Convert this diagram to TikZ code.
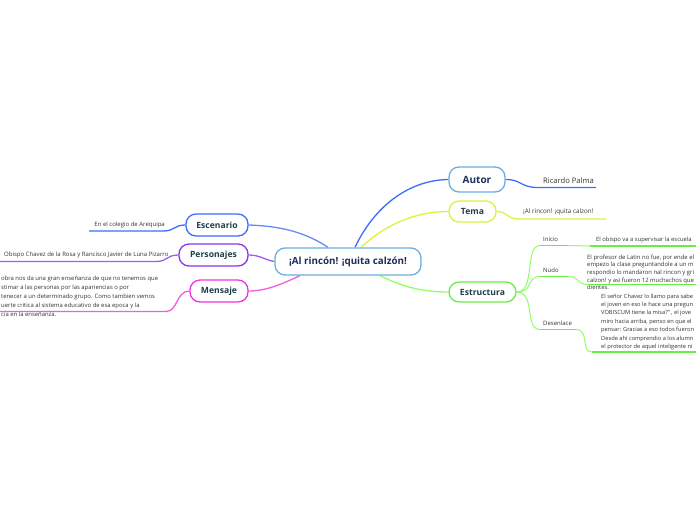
\documentclass[tikz,border=0pt]{standalone}
\usepackage{fontspec}
\setmainfont{Open Sans}
\usetikzlibrary{calc}
\pgfdeclarelayer{bg}
\pgfsetlayers{bg,main}
\definecolor{navy}{HTML}{1B2F5A}
\definecolor{tealtx}{HTML}{1E3F4A}
\definecolor{cblue}{HTML}{3D6BFF}
\definecolor{lblue}{HTML}{6AAEE0}
\definecolor{ylw}{HTML}{D8F53A}
\definecolor{grn}{HTML}{66EE44}
\definecolor{lgrn}{HTML}{8FFF66}
\definecolor{purp}{HTML}{8A33F0}
\definecolor{mag}{HTML}{EE33DD}
\definecolor{leaftx}{HTML}{333333}
\tikzset{
 topic/.style={draw, rounded corners=10pt, line width=1.3pt, fill=white,
   font=\bfseries\fontsize{8.6}{9}\selectfont, text=tealtx, inner sep=0pt, minimum height=22pt},
 leaf/.style={font=\fontsize{6}{7.6}\selectfont, text=leaftx, inner sep=0pt, align=left},
 conn/.style={line width=1.3pt},
 thin/.style={line width=1pt},
}
\begin{document}
\begin{tikzpicture}[x=1pt,y=-1pt]
\useasboundingbox (0,0) rectangle (696,520);
\clip (0,0) rectangle (696,520);
% topics
\node[topic, draw=lblue, text=navy, minimum width=146pt, minimum height=27pt,
  font=\bfseries\fontsize{9.8}{10}\selectfont] (c) at (348,261.5) {¡Al rincón! ¡quita calzón!};
\node[topic, draw=lblue, text=navy, minimum width=56pt, minimum height=25pt,
  font=\bfseries\fontsize{10}{12}\selectfont] (autor) at (477,179.5) {Autor};
\node[topic, draw=ylw, minimum width=47pt, minimum height=21pt] (tema) at (472.5,211.5) {Tema};
\node[topic, draw=grn, minimum width=67pt, minimum height=20pt] (est) at (482.5,292) {Estructura};
\node[topic, draw=cblue, minimum width=62pt, minimum height=22pt] (esc) at (217,225) {Escenario};
\node[topic, draw=purp, minimum width=69pt, minimum height=22pt] (per) at (213.5,255) {Personajes};
\node[topic, draw=mag, minimum width=58pt, minimum height=22pt] (men) at (219,291) {Mensaje};

\begin{pgfonlayer}{bg}
% main connectors
\draw[conn, cblue] ($(c.north)+(7,0)$) .. controls (375,205) and (410,180) .. (autor.west);
\draw[conn, ylw] ($(c.north)+(13,0)$) .. controls (385,225) and (415,211.5) .. (tema.west);
\draw[conn, lgrn] ($(c.south)+(32,0)$) .. controls (405,288) and (425,292) .. (est.west);
\draw[conn, cblue!80] ($(c.north)+(-20,0)$) .. controls (305,232) and (280,226) .. (esc.east);
\draw[conn, purp!80] (c.west) .. controls (265,260) and (260,255) .. (per.east);
\draw[conn, mag!80] ($(c.south)+(-48,0)$) .. controls (280,285) and (265,291) .. (men.east);
\end{pgfonlayer}

% Autor leaf
\node[leaf, font=\fontsize{7.6}{8}\selectfont, text=leaftx, anchor=west] (rp) at (543,180.5) {Ricardo Palma};
\coordinate (rpa) at (538,187.5);
\coordinate (rpb) at (596,187.5);
\draw[conn, cblue] (autor.east) .. controls (522,179.5) and (520,187.5) .. (rpa) -- (rpb);

% Tema leaf
\node[leaf, font=\fontsize{6.3}{7}\selectfont, anchor=west] (tl) at (523,211.5) {¡Al rincon! ¡quita calzon!};
\coordinate (tla) at (519,219);
\coordinate (tlb) at (606,219);
\draw[conn, ylw] (tema.east) .. controls (508,211.5) and (506,219) .. (tla) -- (tlb);

% Escenario leaf
\node[leaf, anchor=east] (el) at (165,225) {En el colegio de Arequipa};
\coordinate (ela) at (163,231);
\coordinate (elb) at (89,231);
\draw[conn, cblue] (esc.west) .. controls (174,225) and (175,231) .. (ela) -- (elb);

% Personajes leaf
\node[leaf, anchor=west] (pl) at (4,255) {Obispo Chavez de la Rosa y Rancisco Javier de Luna Pizarro};
\coordinate (pla) at (156,261.5);
\coordinate (plb) at (0,261.5);
\draw[conn, purp!80] (per.west) .. controls (166,255) and (168,261.5) .. (pla) -- (plb);

% Mensaje leaf
\node[leaf, font=\fontsize{5.9}{9.2}\selectfont, anchor=north west] (ml) at (1,275.5) {obra nos da una gran enseñanza de que no tenemos que\\
stimar a las personas por las apariencias o por\\
tenecer a un determinado grupo. Como tambien vemos\\
uerte critica al sistema educativo de esa epoca y la\\
cia en la enseñanza.};
\coordinate (mla) at (166,311.5);
\coordinate (mlb) at (0,311.5);
\draw[conn, mag!80] (men.west) .. controls (176,291) and (178,311.5) .. (mla) -- (mlb);

% Estructura sub-branches
\node[leaf, anchor=west] (ini) at (543,239.5) {Inicio};
\node[leaf, anchor=west] (nud) at (543,270) {Nudo};
\node[leaf, anchor=west] (des) at (543,323.5) {Desenlace};
\coordinate (inia) at (540,245.5);
\coordinate (inib) at (568,245.5);
\coordinate (nuda) at (540,276.5);
\coordinate (nudb) at (568,276.5);
\coordinate (desa) at (540,329.5);
\coordinate (desb) at (576,329.5);
\draw[thin, lgrn] (est.east) .. controls (536,292) and (524,245.5) .. (inia);
\draw[thin, lgrn] (est.east) .. controls (534,292) and (526,276.5) .. (nuda);
\draw[thin, lgrn] (est.east) .. controls (536,292) and (524,329.5) .. (desa);
\draw[conn, grn] (inia) -- (inib);
\draw[conn, grn] (nuda) -- (nudb);
\draw[conn, grn] (desa) -- (desb);

% Inicio text
\node[leaf, font=\fontsize{5.85}{7}\selectfont, anchor=west] (init) at (596,240) {El obispo va a supervisar la escuela};
\coordinate (inic) at (590,246);
\coordinate (inid) at (696,246);
\draw[thin, lgrn] (inib) -- (inic);
\draw[conn, grn] (inic) -- (inid);

% Nudo text
\node[leaf, font=\fontsize{5.9}{7.6}\selectfont, anchor=north west] (nudt) at (587,254.5) {El profesor de Latin no fue, por ende el\\
empezo la clase preguntandole a un m\\
respondio lo mandaron nal rincon y gri\\
calzon! y asi fueron 12 muchachos que\\
dientes.};
\coordinate (nudc) at (588,284.5);
\coordinate (nudd) at (696,284.5);
\draw[thin, lgrn] (nudb) .. controls (580,276.5) and (576,284.5) .. (nudc);
\draw[conn, grn] (nudc) -- (nudd);

% Desenlace text
\node[leaf, font=\fontsize{5.7}{8.4}\selectfont, anchor=north west] (dest) at (601,293.5) {El señor Chavez lo llamo para sabe\\
el joven en eso le hace una pregun\\
VOBISCUM tiene la misa?" , el jove\\
miro hacia arriba, penso en que el\\
pensar: Gracias a eso todos fueron\\
Desde ahi comprendio a los alumn\\
el protector de aquel inteligente ni};
\coordinate (desc) at (592,352);
\coordinate (desd) at (696,352);
\draw[thin, lgrn] (desb) .. controls (590,329.5) and (580,352) .. (desc);
\draw[conn, grn] (desc) -- (desd);
\end{tikzpicture}
\end{document}
